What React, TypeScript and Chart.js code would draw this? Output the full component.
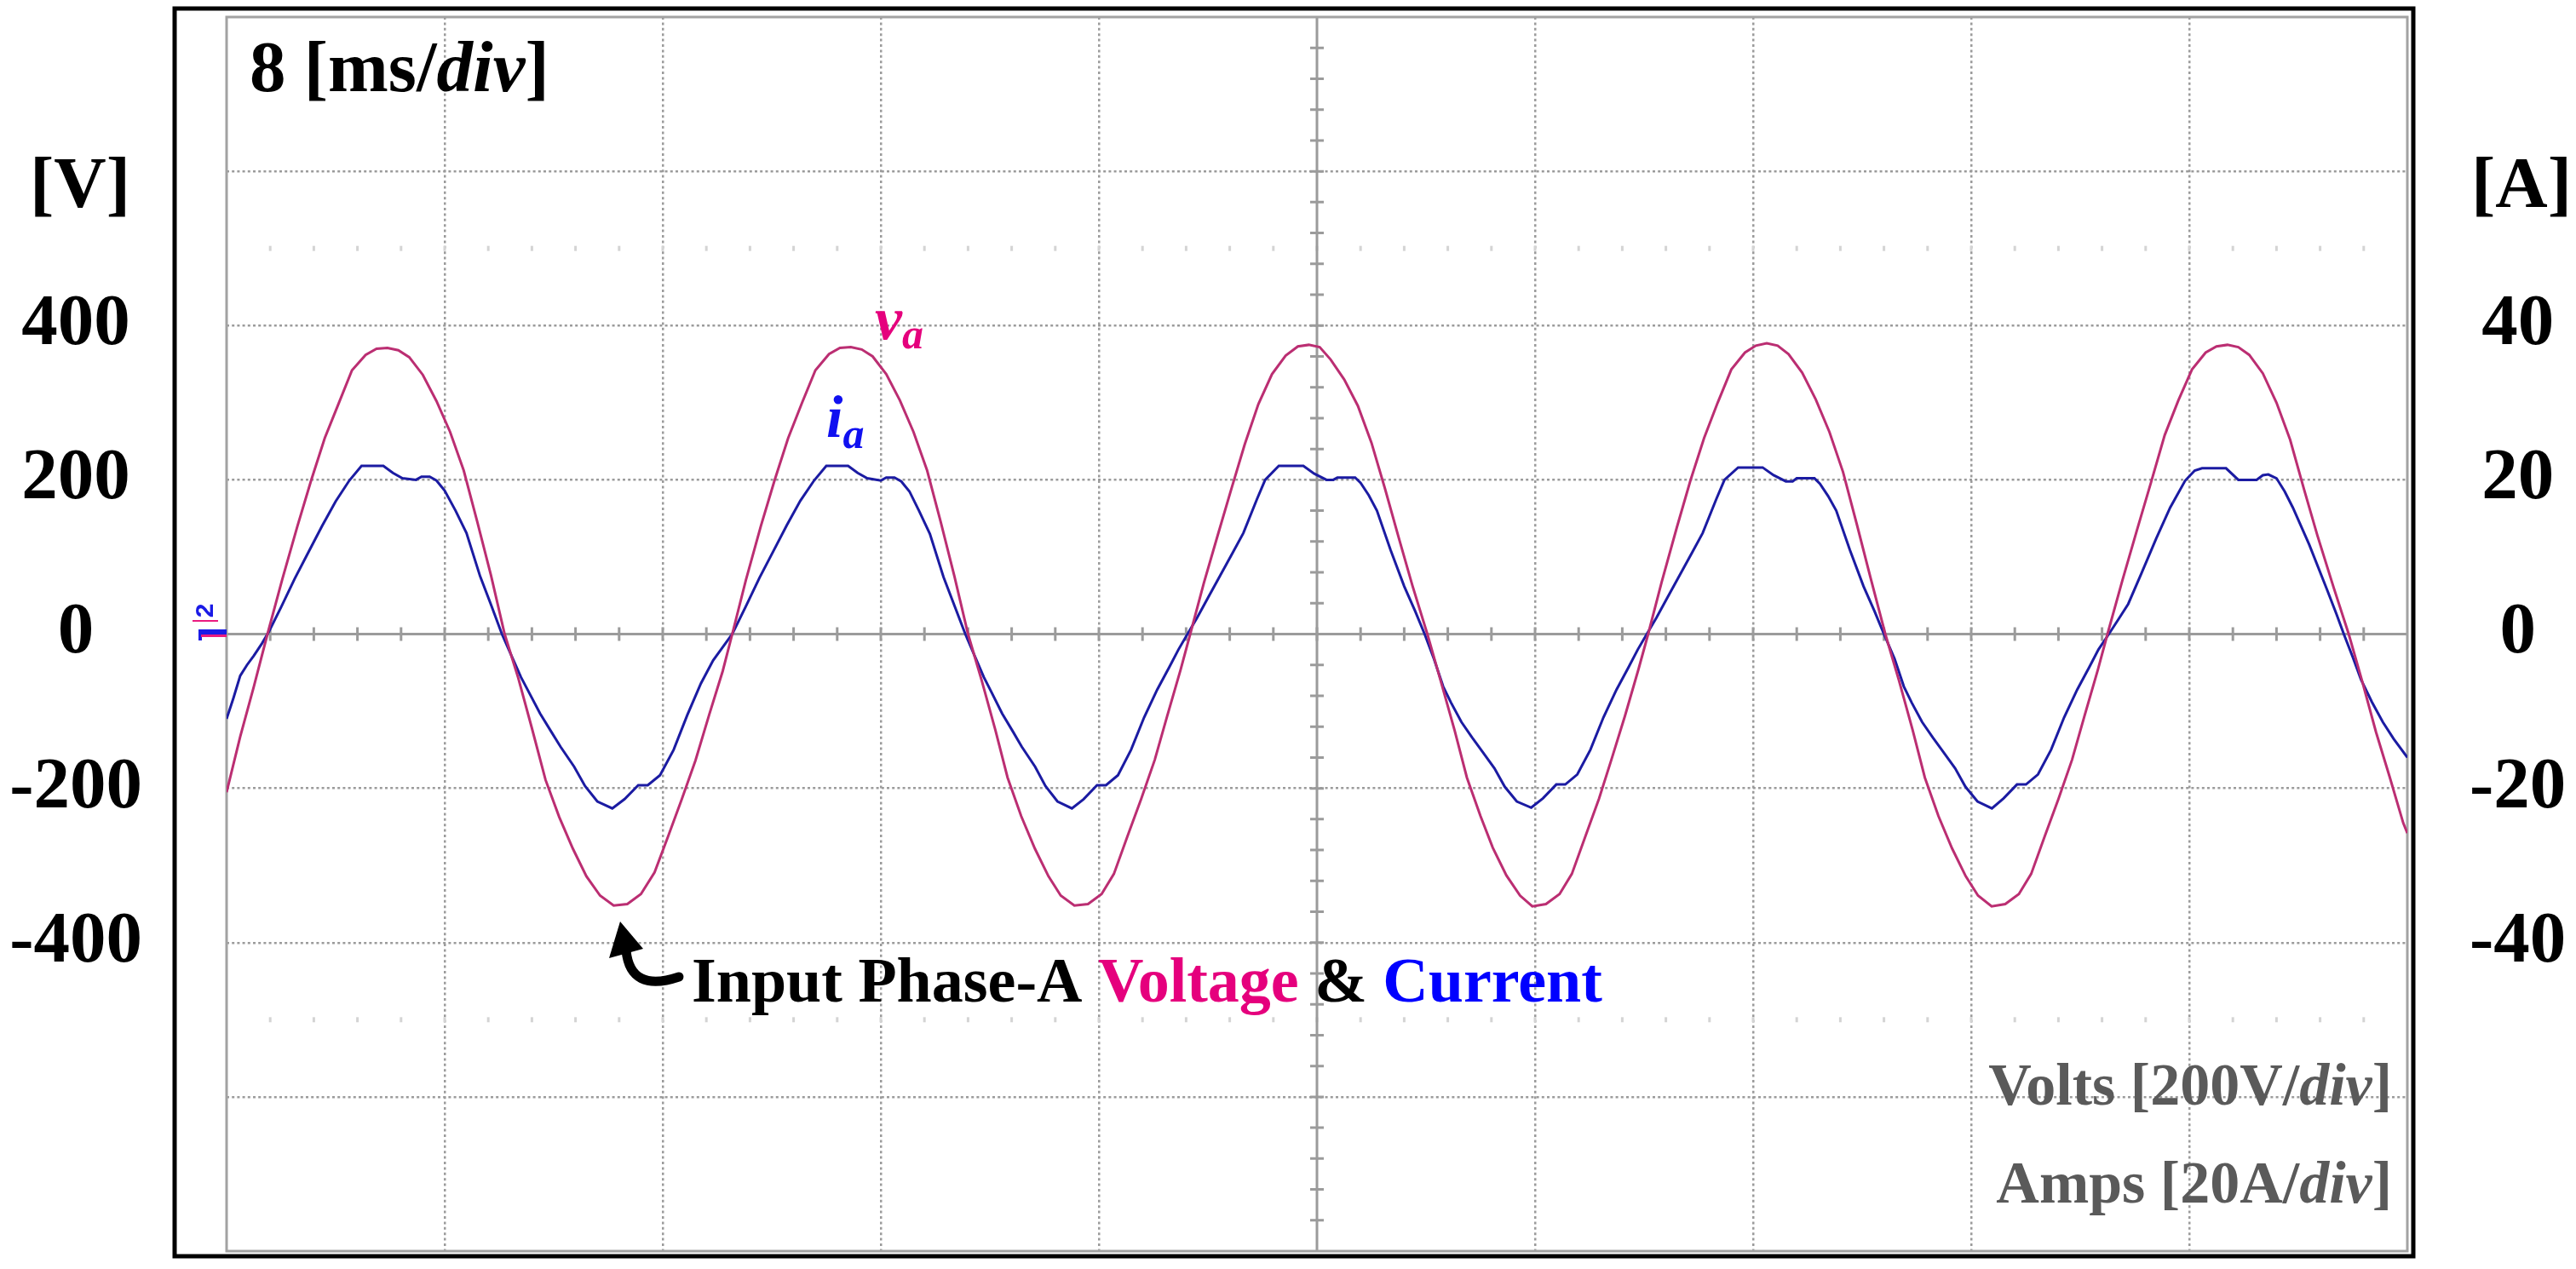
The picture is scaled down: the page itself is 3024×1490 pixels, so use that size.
import React, { useEffect, useRef } from "react";
import { Chart, registerables } from "chart.js";

Chart.register(...registerables);

// ---------------- data ----------------
// time in ms (8 ms/div, 10 divisions)
const voltageTimeMs = [
  0.0, 0.5, 1.0, 1.5,
  2.05, 2.6, 3.1, 3.6, 4.1, 4.6, 5.1, 5.5, 5.9, 6.3, 6.7, 7.2, 7.7, 8.2, 8.7, 9.2, 9.7, 10.2,
  10.7, 11.2, 11.7, 12.2, 12.7, 13.2, 13.7, 14.2, 14.7, 15.2, 15.7, 16.2, 16.7, 17.2, 17.7, 18.2, 18.55,
  19.05, 19.6, 20.1, 20.6, 21.1, 21.6, 22.1, 22.5, 22.9, 23.3, 23.7, 24.2, 24.7, 25.2, 25.7, 26.2, 26.7, 27.2,
  27.7, 28.2, 28.65, 29.15, 29.65, 30.15, 30.6, 31.1, 31.6, 32.1, 32.55, 33.05, 33.55, 34.05, 34.5, 35.0, 35.35,
  35.85, 36.35, 36.85, 37.35, 37.85, 38.35, 38.85, 39.3, 39.7, 40.1, 40.5, 41.0, 41.5, 42.0, 42.5, 43.0, 43.5, 44.05,
  44.55, 45.05, 45.5, 46.0, 46.45, 46.95, 47.45, 47.9, 48.4, 48.9, 49.35, 49.85, 50.35, 50.8, 51.3, 51.8, 52.15,
  52.65, 53.2, 53.7, 54.2, 54.7, 55.2, 55.7, 56.1, 56.5, 56.9, 57.3, 57.8, 58.3, 58.8, 59.3, 59.8, 60.3, 60.85,
  61.35, 61.85, 62.3, 62.8, 63.3, 63.8, 64.25, 64.75, 65.25, 65.75, 66.2, 66.7, 67.2, 67.7, 68.15, 68.65, 69.0,
  69.55, 70.1, 70.6, 71.1, 71.6, 72.1, 72.6, 73.0, 73.4, 73.8, 74.2, 74.7, 75.2, 75.7, 76.2, 76.7, 77.3, 77.85,
  78.35, 78.85, 79.35, 79.85, 80.0,
];
// phase-A voltage, V
const voltageValues = [
  -205, -133, -68, 0,
  72, 140, 199, 254, 298, 342, 362, 370, 371, 368, 359, 336, 302, 262, 212, 145, 76, 0,
  -57, -122, -189, -237, -278, -314, -339, -352, -350, -337, -309, -262, -214, -164, -105, -48, 0,
  70, 140, 199, 254, 299, 342, 363, 371, 372, 369, 360, 337, 303, 262, 212, 145, 75, 0,
  -60, -124, -186, -236, -278, -314, -339, -352, -350, -337, -311, -262, -214, -163, -107, -46, 0,
  66, 127, 187, 246, 298, 337, 361, 373, 375, 372, 356, 330, 296, 248, 188, 125, 63, 0,
  -62, -125, -186, -236, -277, -313, -339, -353, -350, -337, -311, -262, -213, -163, -106, -45, 0,
  68, 138, 199, 254, 300, 343, 365, 374, 377, 374, 363, 339, 304, 262, 210, 143, 74, 0,
  -60, -124, -186, -236, -278, -314, -339, -353, -350, -337, -311, -262, -214, -163, -107, -46, 0,
  70, 137, 197, 258, 303, 343, 365, 373, 375, 372, 362, 338, 300, 252, 189, 128, 60, 0,
  -62, -127, -185, -245, -258,
];

const currentTimeMs = [
  0.0, 0.25, 0.5, 0.75, 1.0, 1.3, 1.55,
  2.0, 2.5, 3.0, 3.5, 4.0, 4.5, 4.95, 5.75, 6.1, 6.45, 6.95, 7.15, 7.45, 7.7, 8.0, 8.4, 8.8, 9.3, 9.7, 10.1,
  10.45, 10.8, 11.1, 11.5, 11.9, 12.25, 12.75, 13.15, 13.6, 14.15, 14.6, 15.1, 15.45, 15.9, 16.4, 16.9, 17.4, 17.85, 18.2, 18.55,
  19.05, 19.55, 20.05, 20.55, 21.05, 21.55, 22.0, 22.8, 23.15, 23.5, 24.0, 24.2, 24.5, 24.75, 25.05, 25.4, 25.8, 26.3, 26.7, 27.1,
  27.44, 27.78, 28.07, 28.45, 28.84, 29.17, 29.66, 30.04, 30.48, 31.01, 31.44, 31.93, 32.26, 32.7, 33.18, 33.66, 34.14, 34.58, 34.92, 35.25,
  35.6, 36.0, 36.45, 36.9, 37.3, 37.8, 38.1, 38.6, 39.5, 39.9, 40.35, 40.6, 40.75, 41.4, 41.6, 41.9, 42.2, 42.7, 43.2, 43.6, 43.95,
  44.29, 44.63, 44.92, 45.3, 45.69, 46.02, 46.51, 46.89, 47.33, 47.86, 48.29, 48.78, 49.11, 49.55, 50.03, 50.51, 50.99, 51.43, 51.77, 52.1,
  52.45, 52.85, 53.3, 53.75, 54.15, 54.65, 54.95, 55.45, 56.35, 56.75, 57.2, 57.45, 57.6, 58.25, 58.45, 58.75, 59.05, 59.55, 60.05, 60.45, 60.8,
  61.19, 61.53, 61.82, 62.2, 62.59, 62.92, 63.41, 63.79, 64.23, 64.76, 65.19, 65.68, 66.01, 66.45, 66.93, 67.41, 67.89, 68.33, 68.67, 69.05,
  69.4, 69.76, 70.25, 70.79, 71.3, 71.85, 72.2, 72.47, 73.35, 73.8, 74.47, 74.7, 74.9, 75.2, 75.5, 75.8, 76.4, 77.05, 77.4, 77.67,
  78.0, 78.3, 78.7, 79.1, 79.5, 80.0,
];
// phase-A current, A
const currentValues = [
  -11.0, -8.3, -5.4, -4.0, -2.8, -1.2, 0.3,
  3.5, 7.2, 10.6, 14.0, 17.2, 19.9, 21.8, 21.8, 20.9, 20.2, 20.0, 20.4, 20.4, 19.9, 18.6, 16.0, 13.1, 7.5, 3.8, 0,
  -2.8, -5.6, -7.6, -10.3, -12.6, -14.6, -17.2, -19.7, -21.7, -22.6, -21.4, -19.6, -19.6, -18.3, -15.0, -10.5, -6.4, -3.4, -1.7, 0,
  3.6, 7.3, 10.7, 14.1, 17.3, 19.9, 21.8, 21.8, 20.9, 20.2, 19.9, 20.3, 20.3, 19.8, 18.5, 16.0, 13.0, 7.4, 3.7, 0,
  -2.8, -5.6, -7.6, -10.3, -12.6, -14.6, -17.2, -19.7, -21.7, -22.6, -21.4, -19.6, -19.6, -18.3, -15.0, -10.8, -7.2, -4.3, -2.0, 0,
  2.1, 4.7, 7.6, 10.5, 13.1, 17.5, 20.0, 21.8, 21.8, 20.8, 20.0, 20.0, 20.3, 20.3, 19.6, 18.0, 16.0, 10.9, 6.2, 3.0, 0,
  -3.2, -6.8, -8.9, -11.4, -13.4, -15.0, -17.4, -19.8, -21.7, -22.5, -21.3, -19.5, -19.5, -18.2, -15.0, -10.8, -7.2, -4.3, -2.0, 0,
  2.1, 4.7, 7.6, 10.5, 13.1, 17.5, 20.0, 21.6, 21.6, 20.6, 19.8, 19.8, 20.2, 20.2, 19.5, 17.9, 16.0, 10.9, 6.2, 3.0, 0,
  -3.2, -6.8, -8.9, -11.4, -13.4, -15.0, -17.4, -19.8, -21.7, -22.6, -21.3, -19.5, -19.5, -18.2, -15.0, -10.8, -7.2, -4.3, -2.0, 0,
  1.9, 3.9, 7.9, 12.4, 16.4, 19.9, 21.2, 21.5, 21.5, 20.0, 20.0, 20.6, 20.7, 20.2, 18.5, 16.4, 11.6, 5.8, 2.6, 0,
  -3.0, -5.9, -8.8, -11.4, -13.6, -16.0,
];

// axis ranges / tick labels
const timeRange = [0, 80];
const timeStep = 8;
const voltRange = [-800, 800];
const voltStep = 200;
const ampRange = [-80, 80];
const ampStep = 20;
const voltTickLabels = [-400, -200, 0, 200, 400];
const ampTickLabels = [-40, -20, 0, 20, 40];

// ---------------- styles ----------------
const SERIF = "'Liberation Serif', 'Times New Roman', Times, serif";
const SANS = "'Liberation Sans', Arial, sans-serif";
const GRID_GRAY = "#9b9b9b";
const VOLT_COLOR = "#bb2e72";
const CURR_COLOR = "#1b1ba2";
const PINK_TEXT = "#e5007d";
const BLUE_TEXT = "#1010f0";

type Run = { text: string; font: string; color: string; dy?: number };

function drawRuns(ctx: CanvasRenderingContext2D, x: number, y: number, runs: Run[], align: "left" | "right" | "center" = "left") {
  ctx.textAlign = "left";
  ctx.textBaseline = "alphabetic";
  let total = 0;
  for (const r of runs) {
    ctx.font = r.font;
    total += ctx.measureText(r.text).width;
  }
  let cx = align === "right" ? x - total : align === "center" ? x - total / 2 : x;
  for (const r of runs) {
    ctx.font = r.font;
    ctx.fillStyle = r.color;
    ctx.fillText(r.text, cx, y + (r.dy || 0));
    cx += ctx.measureText(r.text).width;
  }
}

const scopePlugin = {
  id: "scopeDecor",
  beforeDraw(chart: any) {
    const ctx = chart.ctx as CanvasRenderingContext2D;
    ctx.save();
    ctx.fillStyle = "#ffffff";
    ctx.fillRect(0, 0, chart.width, chart.height);
    ctx.restore();
  },
  beforeDatasetsDraw(chart: any) {
    const ctx = chart.ctx as CanvasRenderingContext2D;
    const a = chart.chartArea;
    const xs = chart.scales.x;
    const ys = chart.scales.yV;
    const xMid = xs.getPixelForValue((timeRange[0] + timeRange[1]) / 2);
    const yMid = ys.getPixelForValue(0);
    const minorT = timeStep / 5;
    const minorV = voltStep / 5;
    ctx.save();
    // faint rows of graticule marks at +/- 2.5 div
    ctx.fillStyle = "#d4d4d4";
    for (const v of [2.5 * voltStep, -2.5 * voltStep]) {
      const py = ys.getPixelForValue(v);
      for (let t = timeRange[0] + minorT; t < timeRange[1] - 1e-6; t += minorT) {
        const px = xs.getPixelForValue(t);
        ctx.fillRect(px - 1.5, py - 3, 3, 6);
      }
    }
    // solid centre axes
    ctx.strokeStyle = GRID_GRAY;
    ctx.lineWidth = 3;
    ctx.beginPath();
    ctx.moveTo(a.left, yMid);
    ctx.lineTo(a.right, yMid);
    ctx.moveTo(xMid, a.top);
    ctx.lineTo(xMid, a.bottom);
    ctx.stroke();
    // minor ticks on centre axes
    ctx.lineWidth = 3;
    ctx.beginPath();
    for (let t = timeRange[0] + minorT; t < timeRange[1] - 1e-6; t += minorT) {
      const px = xs.getPixelForValue(t);
      ctx.moveTo(px, yMid - 8);
      ctx.lineTo(px, yMid + 8);
    }
    for (let v = voltRange[0] + minorV; v < voltRange[1] - 1e-6; v += minorV) {
      if (Math.abs(v) < 1e-6) continue;
      const py = ys.getPixelForValue(v);
      ctx.moveTo(xMid - 8, py);
      ctx.lineTo(xMid + 8, py);
    }
    ctx.stroke();
    // plot border
    ctx.strokeStyle = "#a2a2a2";
    ctx.lineWidth = 3;
    ctx.strokeRect(a.left, a.top, a.right - a.left, a.bottom - a.top);
    ctx.restore();
  },
  afterDraw(chart: any) {
    const ctx = chart.ctx as CanvasRenderingContext2D;
    const a = chart.chartArea;
    ctx.save();
    // outer black frame
    ctx.strokeStyle = "#000";
    ctx.lineWidth = 5;
    ctx.strokeRect(205, 10, 2833 - 205, 1475 - 10);

    // channel ground markers
    ctx.fillStyle = "#1a1ae6";
    ctx.fillRect(234, 739, a.left - 234, 6);
    ctx.fillRect(233, 739, 4, 13);
    ctx.fillStyle = "#ea1a80";
    ctx.fillRect(236, 745, a.left - 236, 3);
    ctx.save();
    ctx.translate(242, 717);
    ctx.rotate(-Math.PI / 2);
    ctx.font = `bold 30px ${SANS}`;
    ctx.fillStyle = "#1a1ae6";
    ctx.textAlign = "center";
    ctx.textBaseline = "middle";
    ctx.fillText("2", 0, 0);
    ctx.restore();
    ctx.fillStyle = "#ea1a80";
    ctx.fillRect(226, 728, 30, 2);

    const B85 = `bold 85px ${SERIF}`;
    const BI85 = `italic bold 85px ${SERIF}`;
    // time base
    drawRuns(ctx, 293, 107, [
      { text: "8 [ms/", font: B85, color: "#000" },
      { text: "div", font: BI85, color: "#000" },
      { text: "]", font: B85, color: "#000" },
    ]);
    // unit labels
    drawRuns(ctx, 94, 243, [{ text: "[V]", font: B85, color: "#000" }], "center");
    drawRuns(ctx, 2960, 243, [{ text: "[A]", font: B85, color: "#000" }], "center");

    // trace labels
    drawRuns(ctx, 1027, 398, [
      { text: "v", font: `italic bold 72px ${SERIF}`, color: PINK_TEXT },
      { text: "a", font: `italic bold 50px ${SERIF}`, color: PINK_TEXT, dy: 11 },
    ]);
    drawRuns(ctx, 970, 513, [
      { text: "i", font: `italic bold 70px ${SERIF}`, color: BLUE_TEXT },
      { text: "a", font: `italic bold 50px ${SERIF}`, color: BLUE_TEXT, dy: 13 },
    ]);

    // caption with arrow
    const B74 = `bold 74px ${SERIF}`;
    drawRuns(ctx, 812, 1176, [
      { text: "Input Phase-A ", font: B74, color: "#000" },
      { text: "Voltage", font: B74, color: PINK_TEXT },
      { text: " & ", font: B74, color: "#000" },
      { text: "Current", font: B74, color: "#0000ff" },
    ]);
    ctx.strokeStyle = "#000";
    ctx.lineWidth = 11;
    ctx.lineCap = "round";
    ctx.beginPath();
    ctx.moveTo(735, 1116);
    ctx.quadraticCurveTo(740, 1166, 797, 1147);
    ctx.stroke();
    ctx.fillStyle = "#000";
    ctx.beginPath();
    ctx.moveTo(728, 1082);
    ctx.lineTo(715, 1125);
    ctx.lineTo(755, 1114);
    ctx.closePath();
    ctx.fill();

    // scale notes
    const G70 = `bold 70px ${SERIF}`;
    const GI70 = `italic bold 70px ${SERIF}`;
    const gray = "#5a5a5a";
    drawRuns(ctx, 2808, 1297, [
      { text: "Volts [200V/", font: G70, color: gray },
      { text: "div", font: GI70, color: gray },
      { text: "]", font: G70, color: gray },
    ], "right");
    drawRuns(ctx, 2808, 1412, [
      { text: "Amps [20A/", font: G70, color: gray },
      { text: "div", font: GI70, color: gray },
      { text: "]", font: G70, color: gray },
    ], "right");
    ctx.restore();
  },
};

const tickFont = { family: SERIF, size: 85, weight: "bold" as const };

export default function App() {
  const canvasRef = useRef<HTMLCanvasElement | null>(null);

  useEffect(() => {
    document.body.style.margin = "0";
    const canvas = canvasRef.current;
    if (!canvas) return;
    const vData = voltageTimeMs.map((t, i) => ({ x: t, y: voltageValues[i] }));
    const iData = currentTimeMs.map((t, i) => ({ x: t, y: currentValues[i] }));

    const hideEdge = (edges: number[]) => (ctx: any) => {
      const v = ctx.tick ? ctx.tick.value : null;
      if (v === null || v === undefined) return GRID_GRAY;
      return edges.some((e) => Math.abs(e - v) < 1e-6) ? "rgba(0,0,0,0)" : GRID_GRAY;
    };

    const chart = new Chart(canvas, {
      type: "line",
      data: {
        datasets: [
          {
            label: "va",
            data: vData,
            yAxisID: "yV",
            borderColor: VOLT_COLOR,
            borderWidth: 3,
            pointRadius: 0,
            tension: 0,
            fill: false,
          },
          {
            label: "ia",
            data: iData,
            yAxisID: "yA",
            borderColor: CURR_COLOR,
            borderWidth: 3,
            pointRadius: 0,
            tension: 0,
            fill: false,
          },
        ],
      },
      options: {
        animation: false,
        responsive: false,
        devicePixelRatio: 1,
        parsing: false as any,
        normalized: true,
        layout: { padding: { left: 0, right: 0, top: 20, bottom: 21 } },
        plugins: {
          legend: { display: false },
          tooltip: { enabled: false },
          title: { display: false },
        },
        scales: {
          x: {
            type: "linear",
            position: "bottom",
            min: timeRange[0],
            max: timeRange[1],
            ticks: { display: false, stepSize: timeStep, autoSkip: false },
            grid: {
              display: true,
              drawTicks: false,
              lineWidth: 2.5,
              color: hideEdge([timeRange[0], timeRange[1], (timeRange[0] + timeRange[1]) / 2]),
            },
            border: { display: false, dash: [3, 3.4] },
            afterFit: (s: any) => {
              s.height = 0;
              s.paddingLeft = 0;
              s.paddingRight = 0;
            },
          },
          yV: {
            type: "linear",
            position: "left",
            min: voltRange[0],
            max: voltRange[1],
            ticks: {
              stepSize: voltStep,
              autoSkip: false,
              crossAlign: "center",
              padding: 99,
              color: "#000",
              font: tickFont,
              callback: (v: any) => (voltTickLabels.includes(Number(v)) ? String(v) : ""),
            },
            grid: {
              display: true,
              drawTicks: false,
              lineWidth: 2.5,
              color: hideEdge([voltRange[0], voltRange[1], 0]),
            },
            border: { display: false, dash: [3, 3.2] },
            afterFit: (s: any) => {
              s.width = 266;
              s.paddingTop = 0;
              s.paddingBottom = 0;
            },
          },
          yA: {
            type: "linear",
            position: "right",
            min: ampRange[0],
            max: ampRange[1],
            ticks: {
              stepSize: ampStep,
              autoSkip: false,
              crossAlign: "center",
              padding: 73,
              color: "#000",
              font: tickFont,
              callback: (v: any) => (ampTickLabels.includes(Number(v)) ? String(v) : ""),
            },
            grid: { display: false, drawTicks: false },
            border: { display: false },
            afterFit: (s: any) => {
              s.width = 198;
              s.paddingTop = 0;
              s.paddingBottom = 0;
            },
          },
        },
      } as any,
      plugins: [scopePlugin as any],
    });

    return () => {
      chart.destroy();
    };
  }, []);

  return (
    <div style={{ position: "absolute", left: 0, top: 0, width: 3024, height: 1490, background: "#fff" }}>
      <canvas ref={canvasRef} width={3024} height={1490} style={{ display: "block", width: 3024, height: 1490 }} />
    </div>
  );
}
